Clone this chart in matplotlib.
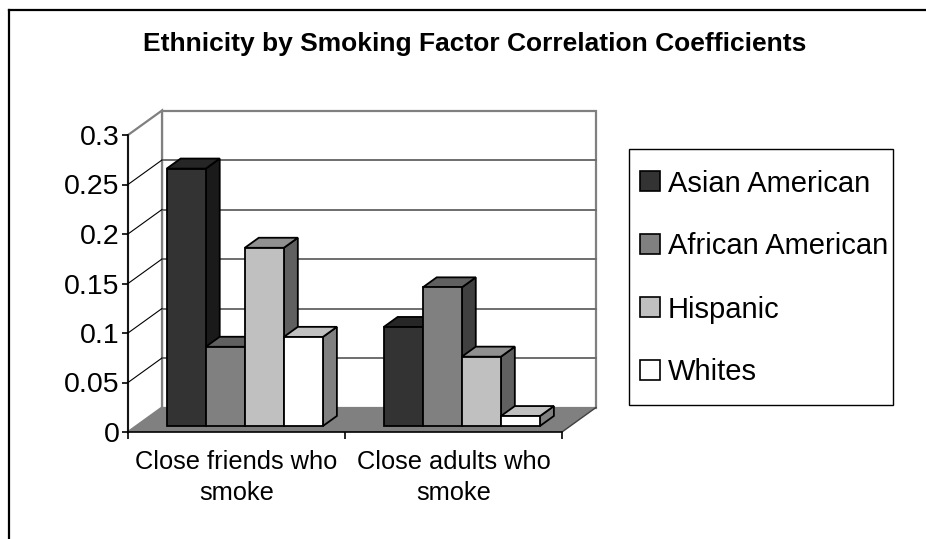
import matplotlib.pyplot as plt
from matplotlib.patches import Polygon, Patch, Rectangle
from matplotlib.lines import Line2D

plt.rcParams['font.family'] = ['Liberation Sans', 'DejaVu Sans']

categories = ["Close friends who\nsmoke", "Close adults who\nsmoke"]
series = ["Asian American", "African American", "Hispanic", "Whites"]
values = {
    "Asian American": [0.26, 0.10],
    "African American": [0.08, 0.14],
    "Hispanic": [0.18, 0.07],
    "Whites": [0.09, 0.01],
}
y_ticks = [0, 0.05, 0.1, 0.15, 0.2, 0.25, 0.3]
y_tick_labels = ["0", "0.05", "0.1", "0.15", "0.2", "0.25", "0.3"]

# front, top, side shades for each series
face_colors = {
    "Asian American": ("#333333", "#262626", "#1a1a1a"),
    "African American": ("#808080", "#606060", "#404040"),
    "Hispanic": ("#c0c0c0", "#909090", "#606060"),
    "Whites": ("#ffffff", "#c0c0c0", "#808080"),
}

W, H = 926, 539
fig = plt.figure(figsize=(W / 100, H / 100), dpi=100)

# front plane of the plot area (pixels)
left_px, right_px, bottom_px, top_px = 128, 562, 432, 135
ax = fig.add_axes([left_px / W, 1 - bottom_px / H,
                   (right_px - left_px) / W, (bottom_px - top_px) / H])
ymax = 0.3
ax.set_xlim(0, len(categories))
ax.set_ylim(0, ymax)

# depth vector of the whole floor, in data units
DX = 34 / (right_px - left_px) * len(categories)
DY = 24.5 / (bottom_px - top_px) * ymax


def proj(x, v, d):
    return (x + d * DX, v + d * DY)


def poly(points, fc, ec, lw, z):
    ax.add_patch(Polygon(points, closed=True, facecolor=fc, edgecolor=ec,
                         linewidth=lw, zorder=z, clip_on=False, joinstyle='miter'))


nc = len(categories)
wall_c = "#808080"
# back wall and left wall
poly([proj(0, 0, 1), proj(nc, 0, 1), proj(nc, ymax, 1), proj(0, ymax, 1)],
     "white", wall_c, 1.6, 1)
poly([proj(0, 0, 0), proj(0, 0, 1), proj(0, ymax, 1), proj(0, ymax, 0)],
     "white", wall_c, 1.6, 1)
# floor
poly([proj(0, 0, 0), proj(nc, 0, 0), proj(nc, 0, 1), proj(0, 0, 1)],
     "#808080", "none", 0, 2)
ax.add_line(Line2D(*zip(proj(nc, 0, 0), proj(nc, 0, 1)), color="#404040",
                   lw=1.0, zorder=2, clip_on=False))

# gridlines on the back wall and the left wall
for v in y_ticks[1:-1]:
    a, b = proj(0, v, 1), proj(nc, v, 1)
    ax.add_line(Line2D([a[0], b[0]], [a[1], b[1]], color="#6e6e6e", lw=1.4,
                       zorder=2, clip_on=False))
    c = proj(0, v, 0)
    ax.add_line(Line2D([c[0], a[0]], [c[1], a[1]], color="black", lw=0.8,
                       zorder=2, clip_on=False))

# bars
bar_w = 0.18
d0, d1 = 0.245, 0.655
z = 3
for ci in range(nc):
    start = ci + 0.5 - bar_w * len(series) / 2
    for si, s in enumerate(series):
        v = values[s][ci]
        x0 = start + si * bar_w
        x1 = x0 + bar_w
        front, top, side = face_colors[s]
        poly([proj(x1, 0, d0), proj(x1, 0, d1), proj(x1, v, d1), proj(x1, v, d0)],
             side, "black", 1.3, z)
        poly([proj(x0, v, d0), proj(x1, v, d0), proj(x1, v, d1), proj(x0, v, d1)],
             top, "black", 1.3, z + 1)
        poly([proj(x0, 0, d0), proj(x1, 0, d0), proj(x1, v, d0), proj(x0, v, d0)],
             front, "black", 1.3, z + 2)
        z += 3

# axes
for side in ("top", "right"):
    ax.spines[side].set_visible(False)
for side in ("left", "bottom"):
    ax.spines[side].set_color("black")
    ax.spines[side].set_linewidth(1.2)
    ax.spines[side].set_zorder(100)
ax.set_facecolor("none")
ax.set_yticks(y_ticks)
ax.set_yticklabels(y_tick_labels, fontsize=20.5)
ax.tick_params(axis="y", length=4, width=1.2, pad=2)
ax.set_xticks(range(nc + 1))
ax.set_xticklabels([])
ax.tick_params(axis="x", which="major", length=5, width=1.2)
ax.set_xticks([i + 0.5 for i in range(nc)], minor=True)
ax.set_xticklabels(categories, minor=True, fontsize=18.3, linespacing=1.35)
ax.tick_params(axis="x", which="minor", length=0, pad=13)

fig.text(0.513, 0.918, "Ethnicity by Smoking Factor Correlation Coefficients",
         ha="center", va="center", fontsize=19, fontweight="bold")

# legend box drawn separately so its padding can be set freely
fig.add_artist(Rectangle((629 / W, 1 - 405 / H), 264 / W, 256 / H,
                         transform=fig.transFigure, facecolor="white",
                         edgecolor="black", linewidth=1.0, zorder=5))
handles = [Patch(facecolor=face_colors[s][0], edgecolor="black", linewidth=1.2)
           for s in series]
leg = fig.legend(handles, series, loc="center left",
                 bbox_to_anchor=(640 / W, 1 - 278 / H), fontsize=21,
                 frameon=False, handlelength=0.68, handleheight=0.68,
                 handletextpad=0.28, labelspacing=1.2, borderpad=0,
                 borderaxespad=0)
leg.set_zorder(6)

# chart border
fig.add_artist(Line2D([9 / W, 1], [1 - 10 / H, 1 - 10 / H], color="black", lw=1.6))
fig.add_artist(Line2D([9 / W, 9 / W], [0, 1 - 10 / H], color="black", lw=1.6))

fig.savefig("out.png", dpi=100)
